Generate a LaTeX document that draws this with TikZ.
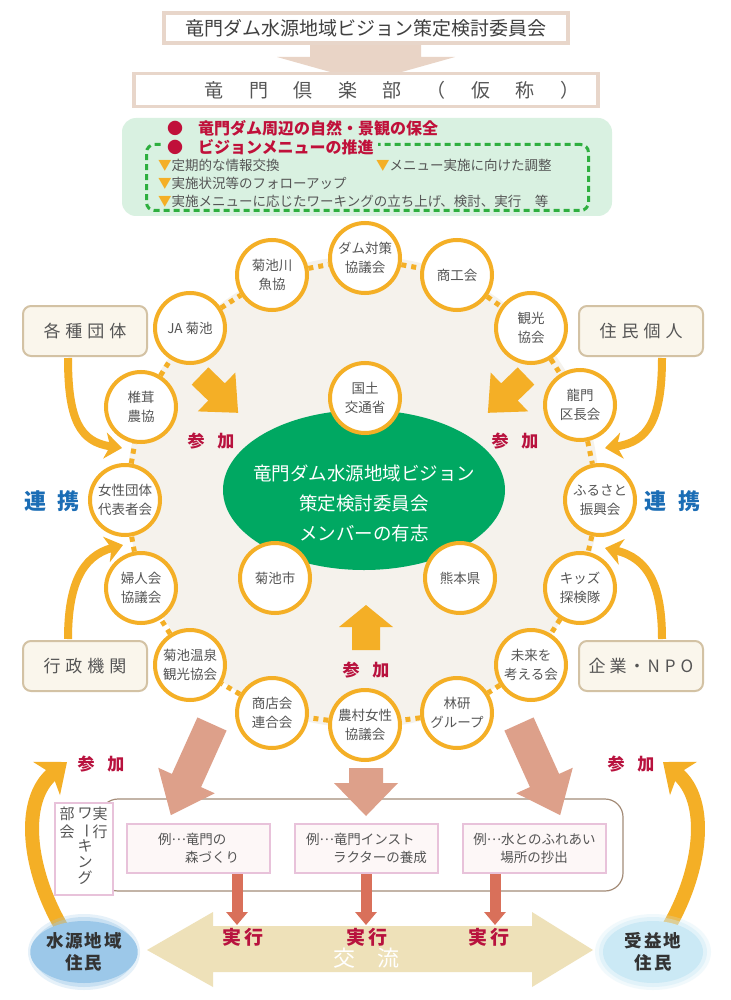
\documentclass[tikz,border=0pt]{standalone}
\usepackage{fontspec}
\usepackage{graphicx}
\setmainfont{Noto Sans CJK JP}
\usetikzlibrary{shapes.geometric,arrows.meta,calc,shadows}
\definecolor{ringor}{HTML}{F4AF26}
\definecolor{ringbg}{HTML}{F5F2EC}
\definecolor{dgreen}{HTML}{00A862}
\definecolor{sankacol}{HTML}{B8123E}
\definecolor{renkeicol}{HTML}{1B6DB5}
\definecolor{gtext}{HTML}{555555}
\definecolor{sidefill}{HTML}{FAF6EC}
\definecolor{sidedraw}{HTML}{D3C2A4}
\definecolor{topdraw}{HTML}{E8D6CA}
\definecolor{topshadow}{HTML}{CDB7A6}
\definecolor{toparrow}{HTML}{E9D4C6}
\definecolor{lgreen}{HTML}{D9F1E1}
\definecolor{dashg}{HTML}{2EAF3F}
\definecolor{bulletred}{HTML}{C0103A}
\definecolor{salmon}{HTML}{DDA08A}
\definecolor{redarr}{HTML}{D9705A}
\definecolor{bigbeige}{HTML}{EEE1B9}
\definecolor{pinkdraw}{HTML}{E8C2DA}
\definecolor{pinkfill}{HTML}{FDF7F7}
\definecolor{contdraw}{HTML}{A48C78}
\definecolor{blueA}{HTML}{9CC8E9}
\definecolor{blueB}{HTML}{CBE9F5}
\newcommand\ordtri{\textcolor{ringor}{▼}}
\newcommand\midell{\raisebox{0.3em}{…}}
\newcommand\blockarr[8]{\fill[#1,shift={(#2,#3)},rotate=#4] (0,-#6) -- ({#5-#8},-#6) -- ({#5-#8},-#7) -- (#5,0) -- ({#5-#8},#7) -- ({#5-#8},#6) -- (0,#6) -- cycle;}
\begin{document}
\begin{tikzpicture}[x=1pt,y=-1pt,
  ringc/.style={circle, draw=ringor, line width=4pt, fill=white, minimum size=70pt, inner sep=0pt, text=gtext, align=center, font=\fontsize{13.5}{18.5}\selectfont},
  ringdot/.style={draw=ringor, line width=5pt, dash pattern=on 5pt off 5pt},
  sidebox/.style={rectangle, rounded corners=8pt, draw=sidedraw, line width=2pt, fill=sidefill, minimum width=124pt, minimum height=50pt, text=gtext, font=\fontsize{17}{20}\selectfont},
  sidearr/.style={draw=ringor, line width=8pt, -{Stealth[length=17pt,width=26pt,inset=5pt]}},
  bigor/.style={draw=ringor, line width=14pt, -{Stealth[length=26pt,width=42pt,inset=7pt]}},
  sanka/.style={text=sankacol, font=\bfseries\fontsize{17}{20}\selectfont},
  renkei/.style={text=renkeicol, font=\bfseries\fontsize{22}{24}\selectfont},
  topbox/.style={rectangle, draw=topdraw, line width=3.5pt, fill=white, drop shadow={shadow xshift=2pt, shadow yshift=-2pt, fill=topshadow, opacity=1}},
  item/.style={anchor=west, inner sep=0pt, text=gtext, font=\fontsize{13.5}{16}\selectfont},
  redbul/.style={anchor=west, text=bulletred, inner sep=0pt, font=\bfseries\fontsize{16}{18}\selectfont},
  exbox/.style={rectangle, draw=pinkdraw, line width=2pt, fill=pinkfill, minimum width=143pt, minimum height=49pt, text=gtext, align=left, font=\fontsize{13.5}{18}\selectfont},
  redblock/.style={draw=redarr, line width=11pt, -{Triangle[length=13pt,width=21pt]}},
  jikko/.style={text=sankacol, font=\bfseries\fontsize{19}{21}\selectfont},
  vtext/.style={text=gtext, align=center, inner sep=0pt},
  resid/.style={ellipse, inner sep=0pt, text=black!80, align=center, font=\bfseries\fontsize{17.5}{22}\selectfont}
]
\useasboundingbox (0,0) rectangle (730,1000);
\fill[white] (0,0) rectangle (730,1000);

% ---------- top boxes ----------
\fill[toparrow] (310,44) -- (421,44) -- (421,57) -- (455,57) -- (366,82) -- (277,57) -- (310,57) -- cycle;
\node[topbox, minimum width=404pt, minimum height=30pt, text=black!75, font=\fontsize{19}{22}\selectfont] (t1) at (366,28) {竜門ダム水源地域ビジョン策定検討委員会};
\node[topbox, minimum width=464pt, minimum height=33pt, text=gtext, font=\fontsize{19}{22}\selectfont] (t2) at (366,90)
 {\hspace*{52pt}竜\hspace{25.4pt}門\hspace{25.4pt}倶\hspace{25.4pt}楽\hspace{25.4pt}部\hspace{25.4pt}（\hspace{25.4pt}仮\hspace{25.4pt}称\hspace{25.4pt}）};

% ---------- green box ----------
\node[fill=lgreen, rounded corners=14pt, minimum width=490pt, minimum height=98pt, inner sep=0pt] (gb) at (367,167) {};
\node[draw=dashg, line width=3pt, dash pattern=on 6pt off 4pt, rounded corners=8pt, minimum width=442pt, minimum height=66pt, inner sep=0pt] (db) at (367.5,177.5) {};
\node[redbul] (g1) at (167,128) {●\hspace{15pt}竜門ダム周辺の自然・景観の保全};
\node[redbul, fill=lgreen, inner xsep=4pt, inner ysep=1pt] (g2) at (163,147) {●\hspace{15pt}ビジョンメニューの推進};
\node[item] (i1) at (158,165) {\ordtri 定期的な情報交換};
\node[item] (i2) at (376,165) {\ordtri メニュー実施に向けた調整};
\node[item] (i3) at (158,183) {\ordtri 実施状況等のフォローアップ};
\node[item] (i4) at (158,201) {\ordtri 実施メニューに応じたワーキングの立ち上げ、検討、実行　等};

% ---------- ring background ----------
\fill[ringbg] (363,492) circle (236pt);

% ---------- side boxes ----------
\node[sidebox] (kaku) at (85,331) {各\hspace{5pt}種\hspace{5pt}団\hspace{5pt}体};
\node[sidebox] (jumin) at (641,331) {住\hspace{5pt}民\hspace{5pt}個\hspace{5pt}人};
\node[sidebox] (gyosei) at (85,666) {行\hspace{5pt}政\hspace{5pt}機\hspace{5pt}関};
\node[sidebox] (kigyo) at (641,666) {企\hspace{4pt}業\hspace{2pt}・\hspace{2pt}N\hspace{5pt}P\hspace{5pt}O};

\coordinate (s1e) at (122,448);
\coordinate (s2e) at (123,545);
\coordinate (s3e) at (605,448);
\coordinate (s4e) at (605,548);
\draw[sidearr] ($(kaku.south west)+(46,1)$) .. controls (68,420) and (80,442) .. (s1e);
\draw[sidearr] ($(gyosei.north west)+(46,-1)$) .. controls (68,585) and (82,556) .. (s2e);
\draw[sidearr] ($(jumin.south east)+(-42,1)$) .. controls (662,420) and (648,442) .. (s3e);
\draw[sidearr] ($(kigyo.north east)+(-42,-1)$) .. controls (662,585) and (648,558) .. (s4e);

% ---------- central ellipse ----------
\node[ellipse, fill=dgreen, minimum width=282pt, minimum height=160pt, inner sep=0pt] (core) at (364,490) {};
\node[text=white, align=center, font=\fontsize{18.5}{30}\selectfont] (coretxt) at (364,503) {竜門ダム水源地域ビジョン\\策定検討委員会\\メンバーの有志};

% ---------- participation arrows ----------
\blockarr{ringor}{200}{376}{-44}{53}{12}{27}{30}
\blockarr{ringor}{526}{376}{-136}{53}{12}{27}{30}
\blockarr{ringor}{366}{650}{90}{45}{14}{27}{22}

% ---------- bottom container and salmon arrows ----------
\node[rectangle, draw=contdraw, line width=1.2pt, rounded corners=18pt, minimum width=523pt, minimum height=92pt, inner sep=0pt] (cont) at (361.5,845) {};
\blockarr{salmon}{212}{724}{-114.3}{100}{16}{31}{38}
\blockarr{salmon}{366}{768}{-90}{48}{17}{32}{33}
\blockarr{salmon}{519}{724}{-65.7}{100}{16}{31}{38}

% ---------- ring circles ----------
\node[ringc] (c01) at (365,258) {ダム対策\\協議会};
\node[ringc] (c02) at (457,275) {商工会};
\node[ringc] (c03) at (531,328) {観光\\協会};
\node[ringc] (c04) at (580,405) {龍門\\区長会};
\node[ringc] (c05) at (600,500) {ふるさと\\振興会};
\node[ringc] (c06) at (580,588) {キッズ\\探検隊};
\node[ringc] (c07) at (531,665) {未来を\\考える会};
\node[ringc] (c08) at (457,713) {林研\\グループ};
\node[ringc] (c09) at (365,725) {農村女性\\協議会};
\node[ringc] (c10) at (272,713) {商店会\\連合会};
\node[ringc] (c11) at (190,665) {菊池温泉\\観光協会};
\node[ringc] (c12) at (141,588) {婦人会\\協議会};
\node[ringc] (c13) at (125,500) {女性団体\\代表者会};
\node[ringc] (c14) at (141,407) {椎茸\\農協};
\node[ringc] (c15) at (190,328) {JA 菊池};
\node[ringc] (c16) at (272,275) {菊池川\\魚協};
\foreach \a/\b in {c01/c02,c02/c03,c03/c04,c04/c05,c05/c06,c06/c07,c07/c08,c08/c09,c09/c10,c10/c11,c11/c12,c12/c13,c13/c14,c14/c15,c15/c16,c16/c01}
  \draw[ringdot] (\a) -- (\b);

\node[ringc] (k1) at (365,398) {国土\\交通省};
\node[ringc] (k2) at (275,578) {菊池市};
\node[ringc] (k3) at (460,578) {熊本県};

% ---------- labels ----------
\node[sanka] (sk1) at (211,441) {参\hspace{13pt}加};
\node[sanka] (sk2) at (515,441) {参\hspace{13pt}加};
\node[sanka] (sk3) at (366,670) {参\hspace{13pt}加};
\node[sanka] (sk4) at (101,764) {参\hspace{13pt}加};
\node[sanka] (sk5) at (631,764) {参\hspace{13pt}加};
\node[renkei] (rk1) at (52,501) {連\hspace{12pt}携};
\node[renkei] (rk2) at (672,501) {連\hspace{12pt}携};

% ---------- exchange arrow ----------
\fill[bigbeige] (147,950) -- (213,912) -- (213,926) -- (532,926) -- (532,912) -- (593,950) -- (532,987) -- (532,972) -- (213,972) -- (213,987) -- cycle;
\node[text=white, font=\fontsize{22}{24}\selectfont] (kr) at (366,958) {交\hspace{22pt}流};

% ---------- working examples ----------
\node[exbox] (ex1) at (198.5,848.5) {例\midell 竜門の\\\hspace*{2em}森づくり};
\node[exbox] (ex2) at (366.5,848.5) {例\midell 竜門インスト\\\hspace*{2em}ラクターの養成};
\node[exbox] (ex3) at (534.5,848.5) {例\midell 水とのふれあい\\\hspace*{2em}場所の抄出};

\node[rectangle, draw=pinkdraw, line width=2pt, fill=white, minimum width=58pt, minimum height=92pt, inner sep=0pt] (vk) at (84,849) {};
\node[vtext, font=\fontsize{15}{18}\selectfont] (vc1) at (100,823) {実\\行};
\node[vtext, font=\fontsize{15}{16}\selectfont] (vc2) at (85,846) {ワ\\\rotatebox[origin=c]{-90}{ー}\\キ\\ン\\グ};
\node[vtext, font=\fontsize{15}{18}\selectfont] (vc3) at (67,823) {部\\会};

\coordinate (r1) at (237,925);
\coordinate (r2) at (366,925);
\coordinate (r3) at (495,925);
\draw[redblock] (r1 |- ex1.south) -- (r1);
\draw[redblock] (r2 |- ex2.south) -- (r2);
\draw[redblock] (r3 |- ex3.south) -- (r3);
\node[jikko] (j1) at (243,937) {実\hspace{3pt}行};
\node[jikko] (j2) at (367,937) {実\hspace{3pt}行};
\node[jikko] (j3) at (489,937) {実\hspace{3pt}行};

% ---------- residents ----------
\coordinate (a5s) at (62,928);
\coordinate (a5e) at (67,762);
\coordinate (a6s) at (668,928);
\coordinate (a6e) at (663,762);
\draw[bigor] (a5s) .. controls (28,870) and (20,800) .. (a5e);
\draw[bigor] (a6s) .. controls (702,870) and (710,800) .. (a6e);

\fill[blueA, opacity=0.25] (84,952) ellipse (56pt and 38pt);
\fill[blueA, opacity=0.4] (84,952) ellipse (52pt and 35pt);
\fill[blueB, opacity=0.25] (653,952) ellipse (58pt and 38pt);
\fill[blueB, opacity=0.4] (653,952) ellipse (54pt and 35pt);
\node[resid, fill=blueA, minimum width=96pt, minimum height=62pt] (sw) at (84,952) {水\hspace{2pt}源\hspace{2pt}地\hspace{2pt}域\\住\hspace{2pt}民};
\node[resid, fill=blueB, minimum width=100pt, minimum height=62pt] (bn) at (653,952) {受\hspace{2pt}益\hspace{2pt}地\\住\hspace{2pt}民};
\end{tikzpicture}
\end{document}
